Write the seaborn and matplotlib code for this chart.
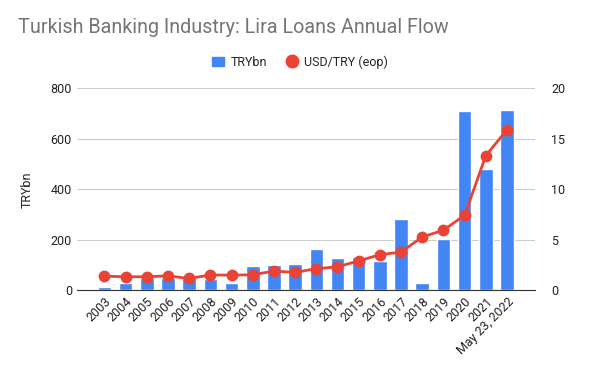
import numpy as np
import pandas as pd
import matplotlib
matplotlib.use("Agg")
import matplotlib.pyplot as plt
import seaborn as sns
from matplotlib.lines import Line2D
from matplotlib.patches import Patch

years = ["2003", "2004", "2005", "2006", "2007", "2008", "2009", "2010", "2011", "2012",
         "2013", "2014", "2015", "2016", "2017", "2018", "2019", "2020", "2021", "May 23, 2022"]
trybn = [13, 29, 48, 50, 47, 45, 27, 97, 101, 105,
         165, 128, 133, 117, 284, 27, 205, 710, 480, 714]
usdtry = [1.40, 1.34, 1.34, 1.43, 1.17, 1.52, 1.50, 1.54, 1.90, 1.78,
          2.14, 2.33, 2.91, 3.53, 3.78, 5.28, 5.95, 7.43, 13.33, 15.90]

blue = "#4285F4"
red = "#EA4335"

df = pd.DataFrame({"year": years, "TRYbn": trybn, "USD/TRY (eop)": usdtry})

sns.set_style("white")
plt.rcParams["font.family"] = ["Roboto", "DejaVu Sans"]

fig = plt.figure(figsize=(6, 3.71), dpi=100)
ax = fig.add_axes([0.128, 0.2175, 0.763, 0.5445])

sns.barplot(data=df, x="year", y="TRYbn", color=blue, width=0.64, saturation=1, ax=ax, zorder=2)
ax.set_ylim(0, 800)
ax.set_yticks([0, 200, 400, 600, 800])
ax.yaxis.grid(True, color="#cccccc", linewidth=0.8, zorder=0)
ax.set_axisbelow(True)
ax.set_xlabel("")
ax.set_ylabel("TRYbn", fontsize=9, color="#222222", labelpad=12)
ax.tick_params(axis="both", length=0, labelsize=9, labelcolor="#222222")
plt.setp(ax.get_xticklabels(), rotation=45, ha="right", rotation_mode="anchor")
for s in ["top", "right", "left"]:
    ax.spines[s].set_visible(False)
ax.spines["bottom"].set_color("#333333")

ax2 = ax.twinx()
sns.lineplot(x=np.arange(len(years)), y=usdtry, color=red, linewidth=2, marker="o",
             markersize=8.5, markeredgewidth=0, ax=ax2)
ax2.set_ylim(0, 20)
ax2.set_yticks([0, 5, 10, 15, 20])
ax2.tick_params(axis="y", length=0, labelsize=9, labelcolor="#222222", pad=12)
for s in ax2.spines.values():
    s.set_visible(False)
ax2.set_xlim(ax.get_xlim())

fig.text(0.03, 0.91, "Turkish Banking Industry: Lira Loans Annual Flow", fontsize=14.2, color="#757575")

handles = [Patch(color=blue, label="TRYbn"),
           Line2D([], [], color=red, marker="o", linestyle="none", markersize=9, label="USD/TRY (eop)")]
fig.legend(handles=handles, loc="center", bbox_to_anchor=(0.5, 0.833), ncol=2, frameon=False,
           fontsize=9, handlelength=1.0, handletextpad=0.5, columnspacing=1.5)

fig.savefig("out.png", dpi=100)
